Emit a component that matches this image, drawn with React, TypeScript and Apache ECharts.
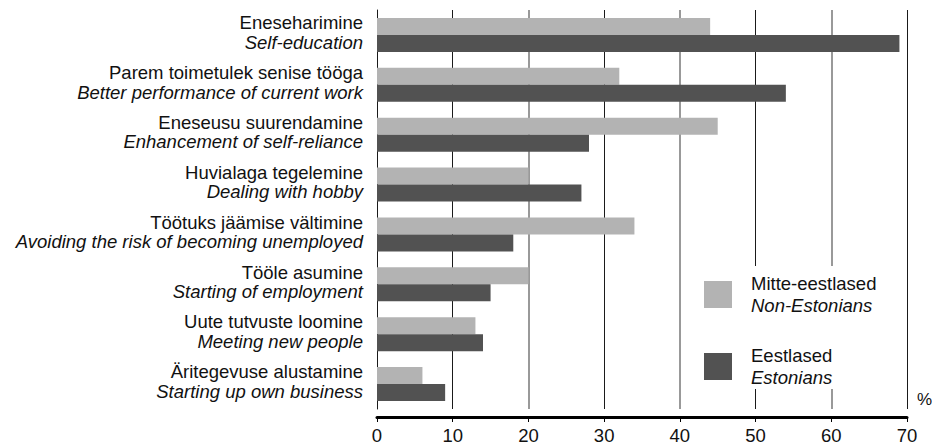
import React, { useEffect, useRef } from "react";
import * as echarts from "echarts";

const categoriesEt = [
  "Eneseharimine",
  "Parem toimetulek senise tööga",
  "Eneseusu suurendamine",
  "Huvialaga tegelemine",
  "Töötuks jäämise vältimine",
  "Tööle asumine",
  "Uute tutvuste loomine",
  "Äritegevuse alustamine",
];
const categoriesEn = [
  "Self-education",
  "Better performance of current work",
  "Enhancement of self-reliance",
  "Dealing with hobby",
  "Avoiding the risk of becoming unemployed",
  "Starting of employment",
  "Meeting new people",
  "Starting up own business",
];
const nonEstonians = [44, 32, 45, 20, 34, 20, 13, 6];
const estonians = [69, 54, 28, 27, 18, 15, 14, 9];
const seriesNamesEt = ["Mitte-eestlased", "Eestlased"];
const seriesNamesEn = ["Non-Estonians", "Estonians"];
const xTicks = [0, 10, 20, 30, 40, 50, 60, 70];

const FONT = "'Liberation Sans', Arial, Helvetica, sans-serif";
const FS = 18.5;

export default function App() {
  const ref = useRef<HTMLDivElement>(null);
  useEffect(() => {
    if (!ref.current) return;
    const chart = echarts.init(ref.current, undefined, { renderer: "svg" });
    const option: any = {
      animation: false,
      backgroundColor: "#fff",
      textStyle: { fontFamily: FONT },
      grid: { left: 377, right: 25, top: 10, bottom: 35, containLabel: false },
      legend: {
        orient: "vertical",
        left: 695,
        top: 266,
        padding: [8, 10, 2, 9],
        backgroundColor: "#fff",
        itemWidth: 28,
        itemHeight: 27,
        itemGap: 31,
        icon: "rect",
        data: seriesNamesEt,
        formatter: (name: string) => {
          const i = seriesNamesEt.indexOf(name);
          return `{a|${name}}\n{b|${seriesNamesEn[i]}}`;
        },
        textStyle: {
          fontFamily: FONT,
          padding: [0, 0, 0, 14],
          rich: {
            a: { fontSize: FS, lineHeight: 22, color: "#111", fontFamily: FONT },
            b: { fontSize: FS, lineHeight: 22, color: "#111", fontStyle: "italic", fontFamily: FONT },
          },
        },
      },
      xAxis: [
        {
          type: "value",
          min: xTicks[0],
          max: xTicks[xTicks.length - 1],
          interval: 10,
          position: "bottom",
          offset: 8,
          axisLine: { show: true, lineStyle: { color: "#000", width: 3 } },
          axisTick: { show: true, length: 5, lineStyle: { color: "#000", width: 1 } },
          axisLabel: { fontSize: FS, color: "#111", margin: 9, fontFamily: FONT },
          splitLine: {
            show: true,
            showMinLine: false,
            lineStyle: { color: "#1a1a1a", width: 1 },
          },
        },
        {
          type: "value",
          min: 0,
          max: 70,
          interval: 20,
          position: "bottom",
          axisLine: { show: false },
          axisTick: { show: false },
          axisLabel: { show: false },
          splitLine: {
            show: true,
            showMinLine: false,
            showMaxLine: false,
            lineStyle: { color: "#999", width: 2 },
          },
        },
      ],
      yAxis: {
        type: "category",
        inverse: true,
        data: categoriesEt,
        axisLine: { show: true, lineStyle: { color: "#1a1a1a", width: 1 } },
        axisTick: { show: false },
        splitLine: { show: false },
        axisLabel: {
          margin: 14,
          padding: [0, 0, 5, 0],
          formatter: (value: string, index: number) =>
            `{a|${value}}\n{b|${categoriesEn[index]}}`,
          rich: {
            a: { fontSize: FS, lineHeight: 19.5, color: "#111", fontFamily: FONT, align: "right" },
            b: { fontSize: FS, lineHeight: 19.5, color: "#111", fontStyle: "italic", fontFamily: FONT, align: "right" },
          },
        },
      },
      graphic: [
        {
          type: "text",
          left: 917,
          top: 391,
          style: { text: "%", fontSize: 17, fill: "#111", fontFamily: FONT },
        },
      ],
      series: [
        {
          name: seriesNamesEt[0],
          type: "bar",
          data: nonEstonians,
          barWidth: 17,
          barGap: "0%",
          itemStyle: { color: "#b3b3b3" },
        },
        {
          name: seriesNamesEt[1],
          type: "bar",
          data: estonians,
          barWidth: 17,
          barGap: "0%",
          itemStyle: { color: "#525252" },
        },
      ],
    };
    chart.setOption(option);
    return () => chart.dispose();
  }, []);
  return (
    <div
      ref={ref}
      style={{ position: "fixed", left: 0, top: 0, width: 932, height: 445 }}
    />
  );
}
